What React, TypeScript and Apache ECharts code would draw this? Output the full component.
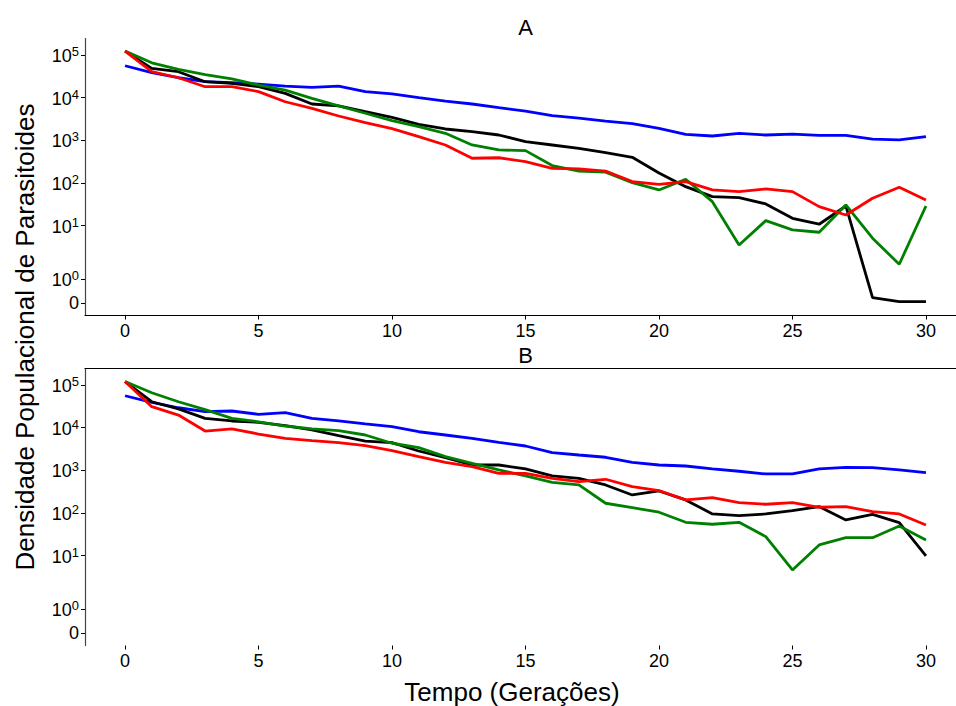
import React, { useEffect, useRef } from "react";
import * as echarts from "echarts";

const generations = Array.from({ length: 31 }, (_, i) => i);
const xTicks = [0, 5, 10, 15, 20, 25, 30];
const yTickValues = [0, 1, 10, 100, 1000, 10000, 100000];
const yTickLabels = ["0", "{b|10}{e|0}", "{b|10}{e|1}", "{b|10}{e|2}", "{b|10}{e|3}", "{b|10}{e|4}", "{b|10}{e|5}"];

const aBlue = [55800, 38300, 29200, 23600, 22300, 20800, 18650, 17400, 18650, 13800, 12170, 10000, 8300, 7080, 5800, 4850, 3770, 3310, 2820, 2450, 1900, 1380, 1260, 1450, 1330, 1400, 1310, 1310, 1060, 1020, 1220];
const aBlack = [123000, 48500, 40400, 23600, 21600, 18000, 12600, 7080, 6370, 4680, 3460, 2370, 1840, 1590, 1330, 929, 776, 650, 513, 400, 172, 82, 47.8, 45.3, 32.3, 14.9, 10.8, 28.9, 0.22, 0.05, 0.05];
const aGreen = [123000, 65400, 46000, 34700, 27500, 19700, 15000, 9630, 6370, 4300, 2880, 2090, 1460, 776, 594, 572, 256, 189, 179, 102, 68.6, 122, 36.5, 3.53, 13.1, 7.94, 7.0, 30.6, 5.07, 1.63, 28.9];
const aRed = [123000, 40400, 29200, 18000, 18000, 13800, 8000, 5620, 3710, 2580, 1870, 1220, 776, 380, 390, 316, 221, 214, 189, 108, 93, 108, 68.6, 62.7, 72.4, 62.7, 27.9, 17.8, 43.9, 79.4, 40];

const bBlue = [55800, 39200, 29200, 23600, 24500, 20500, 22400, 16500, 14300, 12170, 10500, 8000, 6710, 5600, 4530, 3710, 2580, 2280, 2020, 1540, 1330, 1260, 1075, 950, 820, 820, 1075, 1175, 1150, 1020, 880];
const bBlack = [120000, 40400, 27500, 16500, 14300, 13300, 11100, 8800, 6480, 4850, 4440, 2830, 1970, 1330, 1330, 1075, 737, 650, 453, 264, 328, 202, 95, 86.7, 95, 113, 141, 68.6, 93, 59.3, 9.85];
const bGreen = [120000, 65700, 40400, 26500, 16500, 13700, 10900, 9290, 8480, 6710, 4300, 3390, 2090, 1460, 1020, 737, 524, 453, 169, 134, 104, 60.5, 54.4, 60.5, 27.9, 4.62, 17.8, 26.4, 26.4, 49.7, 23.3];
const bRed = [120000, 30900, 19700, 8300, 9290, 7080, 5600, 4940, 4440, 3780, 2880, 2090, 1540, 1220, 850, 850, 650, 541, 616, 413, 333, 202, 228, 175, 160, 175, 136, 141, 107, 95, 52.4];

const FONT = "'Liberation Sans', Arial, sans-serif";
const LINTHRESH = 2;
const LINADJ = 1 / (1 - 1 / 10);

// matplotlib-like symlog transform (base 10, linthresh 2, linscale 1), in decade units
function symlog(v: number): number {
  const a = Math.abs(v);
  if (a <= LINTHRESH) return (v * LINADJ) / LINTHRESH;
  return Math.sign(v) * (LINADJ + Math.log10(a / LINTHRESH));
}

const yTickPos = yTickValues.map(symlog);
const Y_MIN = -0.295;
const Y_MAX = 6.195;

function yLabel(val: number): string {
  for (let i = 0; i < yTickPos.length; i++) {
    if (Math.abs(yTickPos[i] - val) < 1e-6) return yTickLabels[i];
  }
  return "";
}

const colors = { blue: "#0000ff", black: "#000000", green: "#008000", red: "#ff0000" };

export default function App() {
  const ref = useRef<HTMLDivElement>(null);
  useEffect(() => {
    if (!ref.current) return;
    const chart = echarts.init(ref.current, undefined, { renderer: "svg" });
    const gridLeft = 85;
    const gridWidth = 881;
    const gridHeight = 277;
    const xBase = (gridIndex: number, showLine: boolean) => ({
      type: "value" as const,
      gridIndex,
      min: -1.5,
      max: 31.5,
      splitLine: { show: false },
      axisLine: { show: showLine, onZero: false, lineStyle: { color: "#000", width: 1.2 } },
      axisTick: { show: true, length: 4, customValues: xTicks, lineStyle: { color: "#000" } },
      axisLabel: {
        customValues: xTicks,
        fontSize: 18,
        fontFamily: FONT,
        color: "#000",
        margin: 6,
      },
    });
    const yBase = (gridIndex: number) => ({
      type: "value" as const,
      gridIndex,
      min: Y_MIN,
      max: Y_MAX,
      splitLine: { show: false },
      axisLine: { show: true, onZero: false, lineStyle: { color: "#444", width: 1.2 } },
      axisTick: { show: true, length: 4, customValues: yTickPos, lineStyle: { color: "#000" } },
      axisLabel: {
        customValues: yTickPos,
        formatter: (v: number) => yLabel(v),
        fontFamily: FONT,
        color: "#000",
        margin: 6,
        rich: {
          b: { fontSize: 18, fontFamily: FONT, color: "#000", lineHeight: 20, verticalAlign: "bottom" },
          e: { fontSize: 13, fontFamily: FONT, color: "#000", lineHeight: 20, verticalAlign: "top" },
        },
        fontSize: 18,
      },
    });
    const mk = (name: string, vals: number[], color: string, xi: number, yi: number) => ({
      name,
      type: "line" as const,
      xAxisIndex: xi,
      yAxisIndex: yi,
      data: generations.map((t, i) => [t, symlog(vals[i])]),
      showSymbol: false,
      symbol: "none",
      lineStyle: { color, width: 2.8 },
      itemStyle: { color },
      z: 3,
    });
    chart.setOption({
      animation: false,
      backgroundColor: "#ffffff",
      grid: [
        { left: gridLeft, top: 38.5, width: gridWidth, height: gridHeight, containLabel: false },
        { left: gridLeft, top: 368.5, width: gridWidth, height: gridHeight, containLabel: false },
      ],
      xAxis: [
        xBase(0, true),
        xBase(1, false),
        {
          type: "value",
          gridIndex: 1,
          position: "top",
          min: -1.5,
          max: 31.5,
          splitLine: { show: false },
          axisLine: { show: true, onZero: false, lineStyle: { color: "#000", width: 1.2 } },
          axisTick: { show: false },
          axisLabel: { show: false },
        },
      ],
      yAxis: [yBase(0), yBase(1)],
      series: [
        mk("A azul", aBlue, colors.blue, 0, 0),
        mk("A preto", aBlack, colors.black, 0, 0),
        mk("A verde", aGreen, colors.green, 0, 0),
        mk("A vermelho", aRed, colors.red, 0, 0),
        mk("B azul", bBlue, colors.blue, 1, 1),
        mk("B preto", bBlack, colors.black, 1, 1),
        mk("B verde", bGreen, colors.green, 1, 1),
        mk("B vermelho", bRed, colors.red, 1, 1),
      ],
      graphic: [
        { type: "text", x: 525.5, y: 27, style: { text: "A", align: "center", verticalAlign: "middle", fontSize: 22, fontFamily: FONT, fill: "#000" } },
        { type: "text", x: 525.5, y: 355, style: { text: "B", align: "center", verticalAlign: "middle", fontSize: 22, fontFamily: FONT, fill: "#000" } },
        {
          type: "text",
          x: 25,
          y: 337,
          rotation: Math.PI / 2,
          style: { text: "Densidade Populacional de Parasitoides", align: "center", verticalAlign: "middle", fontSize: 26, fontFamily: FONT, fill: "#000" },
        },
        { type: "text", x: 512, y: 692, style: { text: "Tempo (Gerações)", align: "center", verticalAlign: "middle", fontSize: 26, fontFamily: FONT, fill: "#000" } },
      ],
    });
    return () => chart.dispose();
  }, []);
  return (
    <div style={{ position: "absolute", left: 0, top: 0, width: 956, height: 706, overflow: "hidden", background: "#fff" }}>
      <div ref={ref} style={{ position: "absolute", left: 0, top: 0, width: 990, height: 706 }} />
    </div>
  );
}
